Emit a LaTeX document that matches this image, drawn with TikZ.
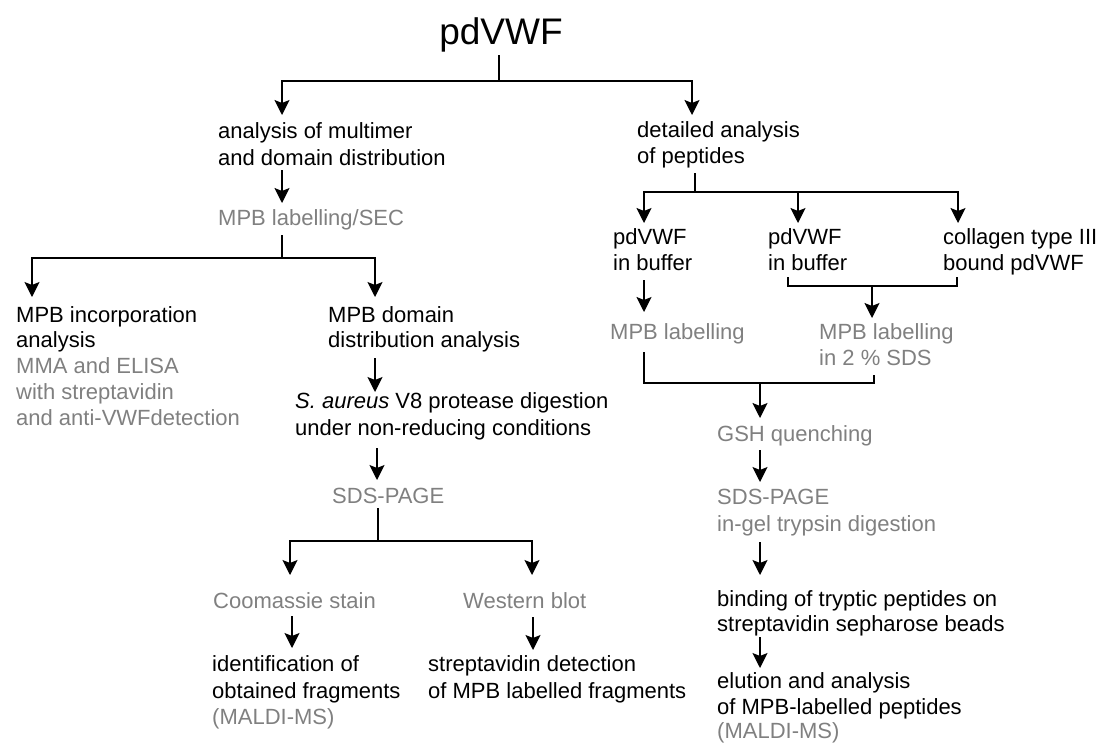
\documentclass[tikz,border=0pt]{standalone}
\usepackage{fontspec}
\setmainfont{Liberation Sans}
\usetikzlibrary{arrows.meta}
\definecolor{labgray}{RGB}{128,128,128}
\tikzset{
  txt/.style={anchor=base west, inner sep=0pt, font=\fontsize{22}{26}\selectfont, text=black},
  gtxt/.style={txt, text=labgray},
  ln/.style={line width=1.3pt, draw=black},
  arr/.style={ln, -{Stealth[length=15pt,width=15pt,inset=3pt]}},
}
\begin{document}
\begin{tikzpicture}[x=1pt,y=-1pt]
\useasboundingbox (0,0) rectangle (1101,744);

% title
\node[anchor=base, inner sep=0pt, font=\fontsize{37}{40}\selectfont] (title) at (501,45) {pdVWF};

% ---------- left branch ----------
\node[txt] (am1) at (218,138) {analysis of multimer};
\node[txt] (am2) at (218,165) {and domain distribution};
\node[gtxt] (sec) at (218,225) {MPB labelling/SEC};

\node[txt] (inc1) at (16,322) {MPB incorporation};
\node[txt] (inc2) at (16,347) {analysis};
\node[gtxt] (inc3) at (16,373) {MMA and ELISA};
\node[gtxt] (inc4) at (16,399) {with streptavidin};
\node[gtxt] (inc5) at (16,425) {and anti-VWFdetection};

\node[txt] (dom1) at (328,322) {MPB domain};
\node[txt] (dom2) at (328,347) {distribution analysis};

\node[txt] (v81) at (295,408) {\textit{S. aureus} V8 protease digestion};
\node[txt] (v82) at (295,435) {under non-reducing conditions};
\node[gtxt] (sdsL) at (332,503) {SDS-PAGE};

\node[gtxt] (coo) at (213,608) {Coomassie stain};
\node[gtxt] (wes) at (463,608) {Western blot};

\node[txt] (id1) at (212,671) {identification of};
\node[txt] (id2) at (212,698) {obtained fragments};
\node[gtxt] (id3) at (212,724) {(MALDI-MS)};

\node[txt] (st1) at (428,671) {streptavidin detection};
\node[txt] (st2) at (428,698) {of MPB labelled fragments};

% ---------- right branch ----------
\node[txt] (det1) at (637,137) {detailed analysis};
\node[txt] (det2) at (637,163) {of peptides};

\node[txt] (pa1) at (613,244) {pdVWF};
\node[txt] (pa2) at (613,270) {in buffer};
\node[txt] (pb1) at (768,244) {pdVWF};
\node[txt] (pb2) at (768,270) {in buffer};
\node[txt] (col1) at (943,244) {collagen type III};
\node[txt] (col2) at (943,270) {bound pdVWF};

\node[gtxt] (labA) at (610,339) {MPB labelling};
\node[gtxt] (labB1) at (819,339) {MPB labelling};
\node[gtxt] (labB2) at (819,365) {in 2 \% SDS};

\node[gtxt] (gsh) at (717,441) {GSH quenching};
\node[gtxt] (sdsR1) at (717,504) {SDS-PAGE};
\node[gtxt] (sdsR2) at (717,531) {in-gel trypsin digestion};
\node[txt] (bin1) at (717,606) {binding of tryptic peptides on};
\node[txt] (bin2) at (717,631) {streptavidin sepharose beads};
\node[txt] (elu1) at (717,688) {elution and analysis};
\node[txt] (elu2) at (717,714) {of MPB-labelled peptides};
\node[gtxt] (elu3) at (717,738) {(MALDI-MS)};

% ---------- connector coordinates ----------
\coordinate (t0) at (499,55);
\coordinate (t1) at (499,81);
\coordinate (tL) at (282,115);
\coordinate (tR) at (692,115);

\coordinate (a0) at (282,170);
\coordinate (a1) at (282,203);
\coordinate (s0) at (282,235);
\coordinate (s1) at (282,258);
\coordinate (sL) at (32,297);
\coordinate (sR) at (375,297);

\coordinate (d0) at (375,358);
\coordinate (d1) at (375,392);
\coordinate (v0) at (377,448);
\coordinate (v1) at (377,480);
\coordinate (p0) at (378,508);
\coordinate (p1) at (378,541);
\coordinate (pL) at (290,575);
\coordinate (pR) at (532,575);
\coordinate (c0) at (292,616);
\coordinate (c1) at (292,648);
\coordinate (w0) at (533,617);
\coordinate (w1) at (533,650);

\coordinate (r0) at (695,173);
\coordinate (r1) at (695,192);
\coordinate (rL) at (644,223);
\coordinate (rM0) at (798,192);
\coordinate (rM) at (798,223);
\coordinate (rR) at (958,223);

\coordinate (q0) at (644,280);
\coordinate (q1) at (644,312);
\coordinate (b0) at (788,277);
\coordinate (b1) at (957,286);
\coordinate (b2) at (957,277);
\coordinate (bm0) at (872,286);
\coordinate (bm1) at (872,318);

\coordinate (e0) at (644,352);
\coordinate (e1) at (874,383);
\coordinate (e2) at (874,375);
\coordinate (em0) at (760,383);
\coordinate (em1) at (760,418);

\coordinate (g0) at (760,450);
\coordinate (g1) at (760,482);
\coordinate (h0) at (760,542);
\coordinate (h1) at (760,575);
\coordinate (k0) at (760,637);
\coordinate (k1) at (760,668);

% ---------- connectors ----------
\draw[ln] (t0) -- (t1);
\draw[arr] (t1) -| (tL);
\draw[arr] (t1) -| (tR);

\draw[arr] (a0) -- (a1);
\draw[ln] (s0) -- (s1);
\draw[arr] (s1) -| (sL);
\draw[arr] (s1) -| (sR);

\draw[arr] (d0) -- (d1);
\draw[arr] (v0) -- (v1);
\draw[ln] (p0) -- (p1);
\draw[arr] (p1) -| (pL);
\draw[arr] (p1) -| (pR);
\draw[arr] (c0) -- (c1);
\draw[arr] (w0) -- (w1);

\draw[ln] (r0) -- (r1);
\draw[arr] (r1) -| (rL);
\draw[arr] (r1) -| (rR);
\draw[arr] (rM0) -- (rM);

\draw[arr] (q0) -- (q1);
\draw[ln] (b0) |- (b1) -- (b2);
\draw[arr] (bm0) -- (bm1);

\draw[ln] (e0) |- (e1) -- (e2);
\draw[arr] (em0) -- (em1);

\draw[arr] (g0) -- (g1);
\draw[arr] (h0) -- (h1);
\draw[arr] (k0) -- (k1);
\end{tikzpicture}
\end{document}
